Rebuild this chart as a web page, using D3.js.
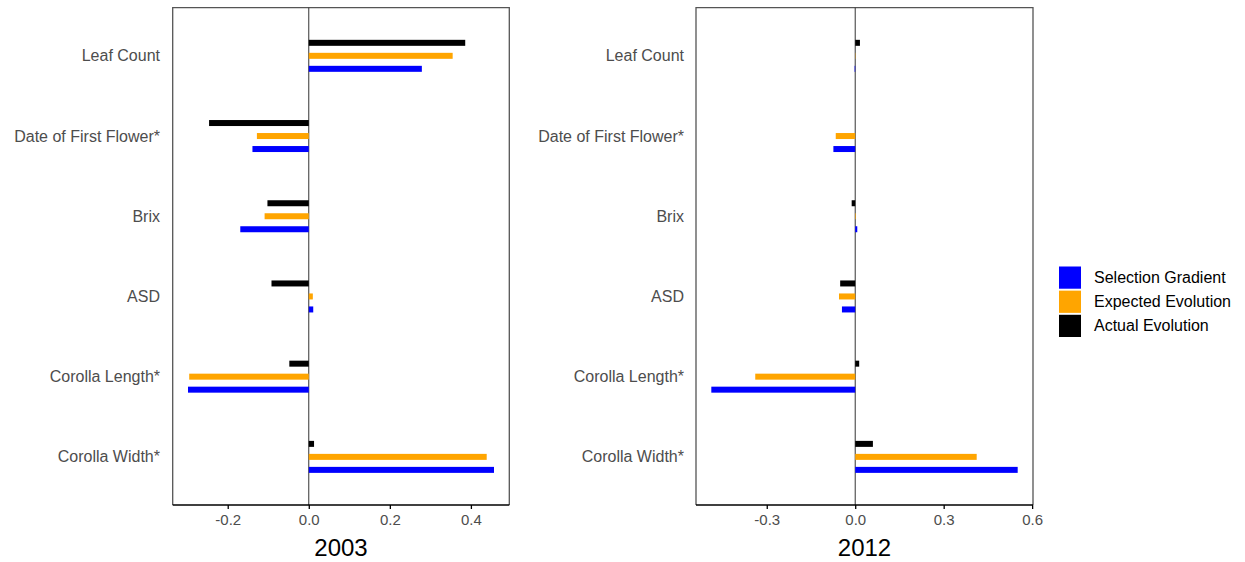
<!DOCTYPE html>
<html>
<head>
<meta charset="utf-8">
<script src="https://cdn.jsdelivr.net/npm/d3@7"></script>
<style>
  html, body { margin: 0; padding: 0; background: #fff; }
  svg { display: block; font-family: "Liberation Sans", Arial, sans-serif; }
</style>
</head>
<body>
<svg id="chart" width="1245" height="562"></svg>
<script>
// ---- data ----
const categories = ["Leaf Count", "Date of First Flower*", "Brix", "ASD", "Corolla Length*", "Corolla Width*"];
const seriesNames = ["Selection Gradient", "Expected Evolution", "Actual Evolution"];
const seriesColors = ["#0000FF", "#FFA500", "#000000"];
// order within each category from top to bottom
const drawOrder = ["Actual Evolution", "Expected Evolution", "Selection Gradient"];

const years = ["2003", "2012"];

const selection2003 = [0.279, -0.139, -0.169, 0.011, -0.298, 0.457];
const expected2003  = [0.355, -0.128, -0.109, 0.010, -0.295, 0.439];
const actual2003    = [0.386, -0.246, -0.102, -0.092, -0.048, 0.013];

const selection2012 = [-0.002, -0.074, 0.007, -0.045, -0.488, 0.551];
const expected2012  = [0.001, -0.066, 0.002, -0.055, -0.339, 0.412];
const actual2012    = [0.016, 0.000, -0.012, -0.051, 0.0135, 0.060];

const ticks2003 = [-0.2, 0.0, 0.2, 0.4];
const ticks2012 = [-0.3, 0.0, 0.3, 0.6];

// ---- drawing ----
const svg = d3.select("#chart");
const colorScale = d3.scaleOrdinal().domain(seriesNames).range(seriesColors);

const panels = [
  { year: years[0], left: 172.7, right: 509.3, labelX: 160,
    values: { "Selection Gradient": selection2003, "Expected Evolution": expected2003, "Actual Evolution": actual2003 },
    ticks: ticks2003 },
  { year: years[1], left: 696, right: 1033, labelX: 684,
    values: { "Selection Gradient": selection2012, "Expected Evolution": expected2012, "Actual Evolution": actual2012 },
    ticks: ticks2012 }
];

const plotTop = 7.7, plotBottom = 505;

panels.forEach(p => {
  const all = seriesNames.flatMap(s => p.values[s]);
  const mn = d3.min(all), mx = d3.max(all);
  const pad = (mx - mn) * 0.05;
  const x = d3.scaleLinear().domain([mn - pad, mx + pad]).range([p.left, p.right]);
  const y = d3.scalePoint().domain(categories).range([plotTop, plotBottom]).padding(0.6);
  const inner = d3.scaleBand().domain(drawOrder).range([-19.5, 19.5]);
  const barH = 6;

  const g = svg.append("g");

  // frame (top, left, right)
  g.append("path")
    .attr("d", `M${p.left},${plotBottom} L${p.left},${plotTop} L${p.right},${plotTop} L${p.right},${plotBottom}`)
    .attr("fill", "none").attr("stroke", "#555").attr("stroke-width", 1.3);

  // zero line
  g.append("line")
    .attr("x1", x(0)).attr("x2", x(0)).attr("y1", plotTop).attr("y2", plotBottom)
    .attr("stroke", "#333").attr("stroke-width", 1);

  // bars
  categories.forEach((c, i) => {
    drawOrder.forEach(s => {
      const v = p.values[s][i];
      g.append("rect")
        .attr("x", Math.min(x(0), x(v)))
        .attr("width", Math.abs(x(v) - x(0)))
        .attr("y", y(c) + inner(s) + (inner.bandwidth() - barH) / 2)
        .attr("height", barH)
        .attr("fill", colorScale(s));
    });
  });

  // category labels
  g.selectAll("text.cat").data(categories).enter().append("text")
    .attr("class", "cat")
    .attr("x", p.labelX)
    .attr("y", d => y(d))
    .attr("dy", "0.35em")
    .attr("text-anchor", "end")
    .attr("font-size", 16)
    .attr("fill", "#4d4d4d")
    .text(d => d);

  // bottom axis
  const axis = d3.axisBottom(x).tickValues(p.ticks).tickSize(4).tickPadding(5)
    .tickFormat(d => d3.format(".1f")(d).replace("−", "-"));
  const ax = g.append("g").attr("transform", `translate(0,${plotBottom})`).call(axis);
  ax.select(".domain").attr("d", `M${p.left},0H${p.right}`).attr("stroke", "#000").attr("stroke-width", 1.6);
  ax.selectAll(".tick line").attr("stroke", "#000").attr("stroke-width", 1.3);
  ax.selectAll(".tick text").attr("font-size", 15).attr("fill", "#4d4d4d")
    .attr("font-family", "Liberation Sans, Arial, sans-serif");

  // title
  g.append("text")
    .attr("x", (p.left + p.right) / 2)
    .attr("y", 556)
    .attr("text-anchor", "middle")
    .attr("font-size", 24)
    .attr("fill", "#000")
    .text(p.year);
});

// legend
const legendY = d3.scaleBand().domain(seriesNames).range([266.5, 337]).paddingInner(0.08);
const lg = svg.append("g");
seriesNames.forEach(s => {
  lg.append("rect")
    .attr("x", 1059).attr("y", legendY(s))
    .attr("width", 22).attr("height", legendY.bandwidth())
    .attr("fill", colorScale(s));
  lg.append("text")
    .attr("x", 1094).attr("y", legendY(s) + legendY.bandwidth() / 2)
    .attr("dy", "0.35em")
    .attr("font-size", 16)
    .attr("fill", "#000")
    .text(s);
});
</script>
</body>
</html>
